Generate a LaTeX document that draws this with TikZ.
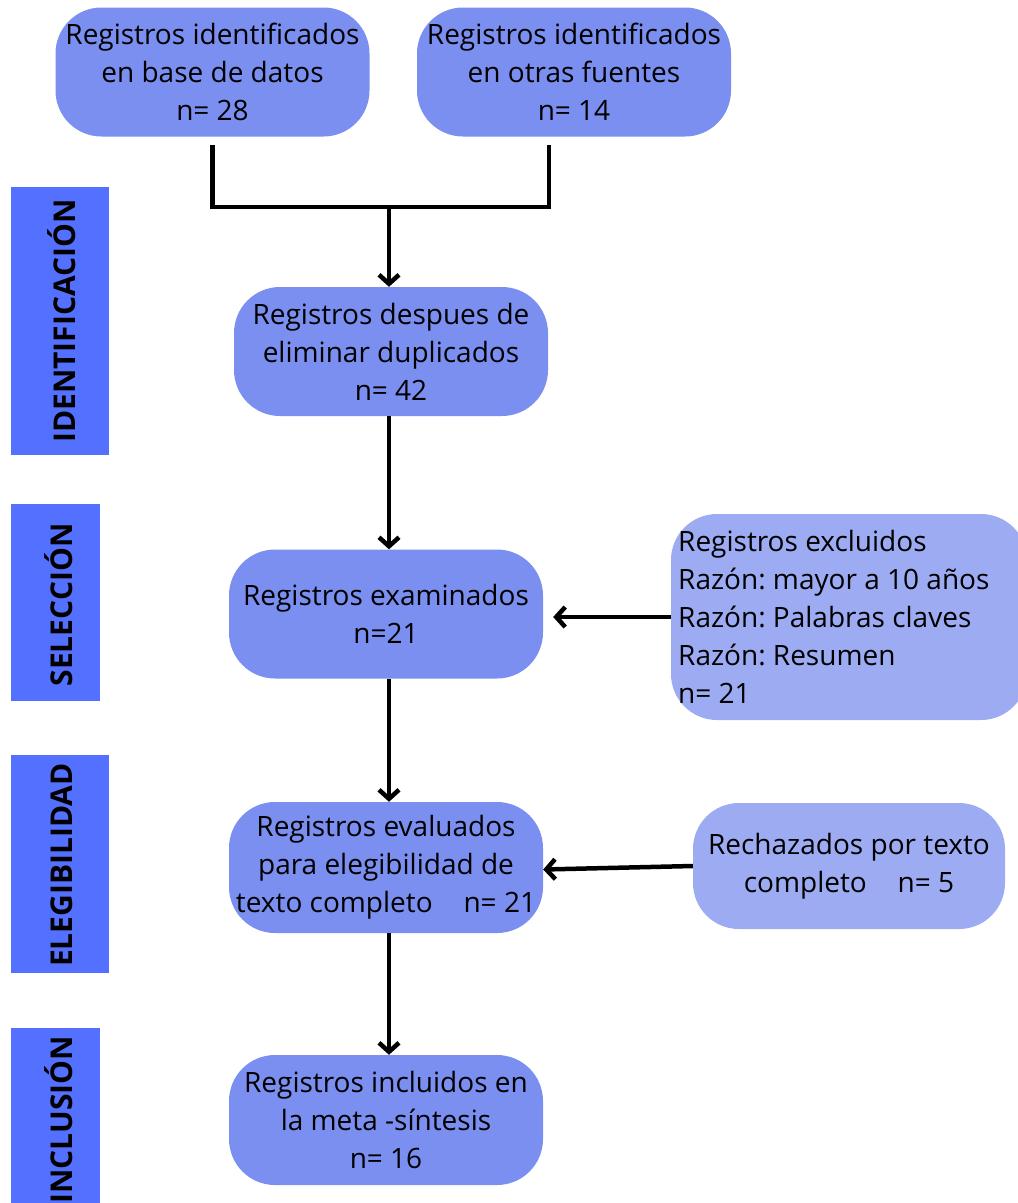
\documentclass[tikz,border=0pt]{standalone}
\usepackage{fontspec}
\setmainfont{Open Sans}
\usetikzlibrary{arrows.meta}
\definecolor{boxA}{RGB}{123,143,240}
\definecolor{boxB}{RGB}{157,171,242}
\definecolor{bar}{RGB}{84,112,255}
\tikzset{
  mainbox/.style={fill=boxA, rounded corners=46pt, minimum width=314pt, minimum height=129pt, align=center, inner sep=0pt,
     font=\fontsize{28}{38}\selectfont},
  sidebox/.style={fill=boxB, rounded corners=46pt, align=center, inner sep=0pt, font=\fontsize{28}{38}\selectfont},
  barbox/.style={fill=bar, anchor=north west, inner sep=0pt},
  barlabel/.style={rotate=90, font=\fontsize{30}{34}\bfseries\selectfont},
  conn/.style={line width=4.5pt},
  arr/.style={line width=4.5pt, -{Straight Barb[length=9pt,width=20pt,line width=4.5pt]}},
}
\frenchspacing
\begin{document}
\begin{tikzpicture}[x=1pt,y=-1pt]
\useasboundingbox (0,0) rectangle (1018,1203);
% side bars
\node[barbox, minimum width=98pt, minimum height=268pt] (b1) at (11,187) {};
\node[barlabel] (l1) at (62,321) {IDENTIFICACIÓN};
\node[barbox, minimum width=89pt, minimum height=197pt] (b2) at (11,504) {};
\node[barlabel] (l2) at (59,605) {SELECCIÓN};
\node[barbox, minimum width=98pt, minimum height=218pt] (b3) at (11,755) {};
\node[barlabel] (l3) at (62,865) {ELEGIBILIDAD};
\node[barbox, minimum width=89pt, minimum height=176pt] (b4) at (11,1028) {};
\node[barlabel] (l4) at (59,1120) {INCLUSIÓN};
% main boxes
\node[mainbox] (db) at (212.5,72) {Registros identificados\\en base de datos\\n= 28};
\node[mainbox] (of) at (574,72) {Registros identificados\\en otras fuentes\\n= 14};
\node[mainbox] (dup) at (391,351.5) {Registros despues de\\eliminar duplicados\\n= 42};
\node[mainbox] (exam) at (386,614) {Registros examinados\\n=21};
\node[mainbox, minimum height=131pt] (eval) at (386,867.5) {Registros evaluados\\para elegibilidad de\\texto completo\hspace{1.1em}n= 21};
\node[mainbox, minimum height=130pt] (inc) at (386,1120) {Registros incluidos en\\la meta -síntesis\\n= 16};
% side boxes
\node[fill=boxB, rounded corners=46pt, minimum width=356pt, minimum height=206pt, inner sep=0pt] (excl) at (849,617) {};
\node[anchor=west, align=left, inner sep=0pt, font=\fontsize{28}{38}\selectfont] (excltext) at (678,617)
  {Registros excluidos\\Razón: mayor a 10 años\\Razón: Palabras claves\\Razón: Resumen\\n= 21};
\node[sidebox, minimum width=312pt, minimum height=126pt] (rech) at (849,866) {Rechazados por texto\\completo\hspace{1.1em}n= 5};
% connectors
\coordinate (join) at (389,207);
\draw[conn] ([yshift=-8pt]db.south) -- (db.south |- join) -- ([xshift=-25pt]of.south |- join) -- ([xshift=-25pt,yshift=-8pt]of.south);
\draw[arr] (join) -- (join |- dup.north);
\draw[arr] ([xshift=3pt]dup.south -| exam.north) -- ([xshift=3pt]exam.north);
\draw[arr] (excl.west) -- ([xshift=10pt]exam.east |- excl.west);
\draw[arr] ([xshift=3pt]exam.south) -- ([xshift=3pt]eval.north);
\draw[arr] (rech.west) -- ([yshift=-2pt]eval.east);
\draw[arr] ([xshift=3pt]eval.south) -- ([xshift=3pt]inc.north);
\end{tikzpicture}
\end{document}
